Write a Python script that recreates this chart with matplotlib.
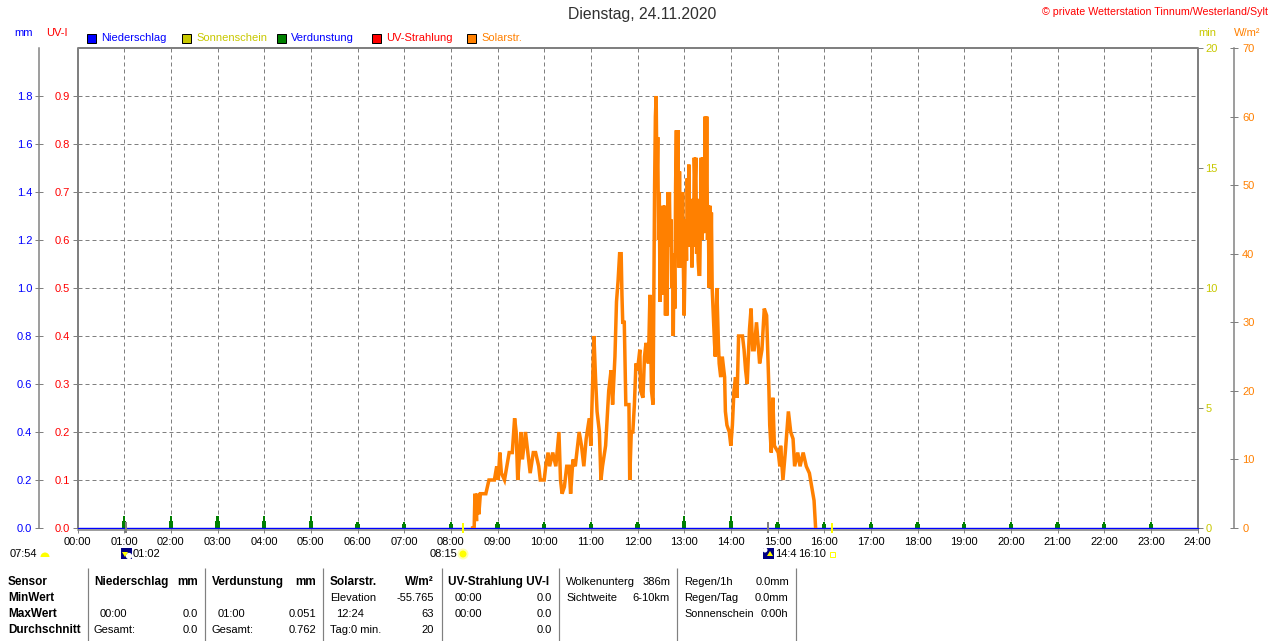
"""
Wetterstation Tagesgrafik 24.11.2020 -- Solarstrahlung, Verdunstung, Niederschlag
"""
import matplotlib
matplotlib.use('Agg')
import matplotlib.pyplot as plt
from matplotlib.patches import Rectangle, Circle, Wedge, Polygon

plt.rcParams['font.family'] = ['Liberation Sans', 'DejaVu Sans']
plt.rcParams['font.size'] = 8
plt.rcParams['lines.scale_dashes'] = False

W, H = 1280, 641
GRAY = '#808080'
ORANGE = '#ff8000'
OLIVE = '#c8c800'
GREEN = '#008000'
BLUE = '#0000ff'
RED = '#ff0000'

# Solarstrahlung: Minuten seit Mitternacht, W/m2
solar_min = [508, 510, 511, 513, 514, 516, 518, 521, 525, 527, 529, 536, 539, 541, 543, 545, 549,
             552, 555, 559, 562, 564, 566, 568, 570, 572, 576, 579, 582, 586, 589, 593, 595, 600,
             602, 605, 607, 611, 615, 619, 621, 623, 626, 629, 632, 634, 637, 640, 645, 648, 651,
             654, 658, 660, 662, 664, 666, 668, 671, 673, 675, 679, 683, 686, 688, 691, 693, 695,
             697, 699, 700, 701, 703, 705, 709, 710, 712, 714, 716, 718, 720, 723, 724, 727, 729,
             731, 734, 736, 738, 740, 741, 742, 743, 744, 745, 746, 747, 748, 749, 750, 751, 752,
             753, 754, 755, 756, 757, 758, 759, 760, 761, 762, 763, 764, 765, 766, 767, 768, 769,
             770, 771, 772, 773, 774, 775, 776, 777, 778, 779, 780, 781, 782, 783, 784, 785, 786,
             787, 788, 789, 790, 791, 792, 793, 794, 795, 796, 797, 798, 799, 800, 801, 802, 803,
             804, 805, 806, 807, 808, 809, 810, 811, 812, 813, 814, 815, 816, 819, 820,
             822, 824, 825, 827, 829, 832, 833, 835, 838, 840, 842, 844, 846, 848, 850, 855, 857,
             859, 861, 864, 866, 868, 870, 873, 877, 880, 883, 886, 889, 890, 892, 894, 896, 901,
             903, 904, 907, 910, 912, 914, 917, 920, 922, 926, 929, 933, 937, 941, 944, 947, 949]
solar_val = [0, 0, 5, 1, 5, 2, 5, 5, 5, 6, 7, 7, 9, 7, 11, 8, 7,
             9, 11, 11, 16, 14, 7, 10, 14, 10, 14, 11, 8, 11, 11, 9, 7, 7,
             9, 11, 9, 11, 9, 14, 7, 5, 6, 9, 9, 5, 10, 9, 14, 12, 9,
             13, 16, 12, 20, 28, 22, 17, 14, 7, 9, 12, 20, 23, 18, 25, 33, 36,
             40, 40, 34, 30, 30, 18, 18, 7, 14, 14, 18, 24, 23, 26, 20, 19, 25,
             27, 24, 34, 20, 18, 33, 50, 60, 63, 50, 57, 42, 49, 33, 42, 35, 36,
             47, 34, 47, 31, 42, 31, 49, 43, 49, 41, 45, 35, 40, 28, 40, 32, 50,
             58, 40, 58, 38, 52, 38, 49, 40, 49, 38, 31, 38, 45, 39, 51, 42, 53,
             42, 41, 48, 38, 46, 41, 54, 50, 54, 40, 48, 39, 37, 37, 45, 54, 42,
             54, 43, 46, 60, 44, 60, 42, 47, 35, 47, 35, 46, 35, 27, 25,
             35, 27, 24, 22, 25, 22, 17, 15, 14, 12, 15, 20, 22, 19, 28, 28, 26,
             23, 21, 29, 32, 26, 26, 30, 24, 26, 32, 31, 20, 15, 11, 19, 12, 11,
             9, 12, 7, 11, 14, 17, 14, 13, 9, 11, 9, 11, 9, 8, 6, 4, 0]

# Verdunstung je Stunde (mm), Niederschlag (mm)
evap_hour = list(range(1, 24))
evap_val = [0.051, 0.051, 0.051, 0.051, 0.051, 0.025, 0.025, 0.025, 0.025, 0.025, 0.025, 0.025,
            0.051, 0.051, 0.025, 0.025, 0.025, 0.025, 0.025, 0.025, 0.025, 0.025, 0.025]
rain_hour = [0, 24]
rain_val = [0.0, 0.0]

hour_labels = ['%02d:00' % h for h in range(25)]
mm_ticks = [0.0, 0.2, 0.4, 0.6, 0.8, 1.0, 1.2, 1.4, 1.6, 1.8]
uv_ticks = [0.0, 0.1, 0.2, 0.3, 0.4, 0.5, 0.6, 0.7, 0.8, 0.9]
min_ticks = [0, 5, 10, 15, 20]
wm_ticks = [0, 10, 20, 30, 40, 50, 60, 70]

PX = 0.72  # 1 px in pt bei dpi 100

fig = plt.figure(figsize=(W / 100, H / 100), dpi=100, facecolor='white')
rect = [77.5 / W, (H - 528) / H, 1120 / W, 480 / H]

ax = fig.add_axes(rect, facecolor='white')
ax.set_xlim(0, 24)
ax.set_ylim(0, 70)

ax_min = ax.twinx()
ax_min.set_ylim(0, 20)
ax_min.set_yticks(min_ticks)
ax_min.patch.set_visible(False)
ax_min.tick_params(axis='y', length=5 * PX, width=PX, color=GRAY, labelcolor=OLIVE, pad=2, labelsize=8)
for s in ['left', 'top', 'bottom', 'right']:
    ax_min.spines[s].set_visible(False)

ax_uv = ax.twinx()
ax_uv.set_ylim(0, 1.0)
ax_uv.yaxis.tick_left()
ax_uv.set_yticks(uv_ticks)
ax_uv.set_yticklabels(['%.1f' % v for v in uv_ticks])
ax_uv.patch.set_visible(False)
ax_uv.tick_params(axis='y', length=5 * PX, width=PX, color=GRAY, labelcolor=RED, pad=2, labelsize=8)
ax_uv.grid(axis='y', color=GRAY, lw=PX, linestyle=(0, (4 * PX, 3 * PX)), zorder=1)
for s in ['left', 'top', 'bottom', 'right']:
    ax_uv.spines[s].set_visible(False)

ax_mm = ax.twinx()
ax_mm.set_ylim(0, 2.0)
ax_mm.yaxis.tick_left()
ax_mm.set_yticks(mm_ticks)
ax_mm.set_yticklabels(['%.1f' % v for v in mm_ticks])
ax_mm.patch.set_visible(False)
ax_mm.spines['left'].set_position(('outward', 38.5 * PX))
ax_mm.spines['left'].set_color(GRAY)
ax_mm.spines['left'].set_linewidth(1.5 * PX)
for s in ['top', 'bottom', 'right']:
    ax_mm.spines[s].set_visible(False)
ax_mm.tick_params(axis='y', direction='inout', length=8 * PX, width=PX, color=GRAY, labelcolor=BLUE,
                  pad=2, labelsize=8)

# Kurven
ax_sol = ax.twinx()
ax_sol.set_ylim(0, 70)
ax_sol.axis('off')
ax_sol.plot([m / 60 for m in solar_min], solar_val, color=ORANGE, lw=3.5 * PX,
            solid_joinstyle='miter', zorder=4)

ax_mm.bar(evap_hour, evap_val, width=0.045, color=GREEN, zorder=3)
ax_mm.bar(evap_hour, [v * 0.6 for v in evap_val], width=0.09, color=GREEN, zorder=3)
ax_mm.plot(rain_hour, rain_val, color=BLUE, lw=1.4 * PX, zorder=6, clip_on=False)

# W/m2 Achse erst nach allen twinx-Aufrufen nach rechts setzen
ax.set_xticks(range(25))
ax.set_xticklabels(hour_labels, fontsize=8)
ax.yaxis.tick_right()
ax.set_yticks(wm_ticks)
ax.spines['right'].set_position(('outward', 36.5 * PX))
ax.spines['right'].set_color(GRAY)
ax.spines['right'].set_linewidth(1.5 * PX)
for s in ['left', 'top', 'bottom']:
    ax.spines[s].set_visible(False)
ax.tick_params(axis='y', right=True, left=False, direction='inout', length=8 * PX, width=PX, color=GRAY,
               labelcolor=ORANGE, pad=3, labelsize=8)
ax.tick_params(axis='x', length=5 * PX, width=PX, color=GRAY, pad=3.2, labelcolor='black')
ax.grid(axis='x', color=GRAY, lw=PX, linestyle=(0, (4 * PX, 3 * PX)), zorder=1)
ax.set_axisbelow(True)

# Pixel-Ebene fuer Rahmen, Texte und Tabelle
px = fig.add_axes([0, 0, 1, 1], facecolor='none')
px.set_xlim(0, W)
px.set_ylim(H, 0)
px.axis('off')


def t(x, y, s, c='black', ha='left', fs=8, fw='normal'):
    px.text(x, y, s, color=c, ha=ha, va='center', fontsize=fs, fontweight=fw)


def tb(x, y, s, ha='left'):
    t(x, y, s, ha=ha, fs=8.5, fw='bold')


# Rahmen
px.plot([77.5, 77.5, 1197.5, 1197.5], [528, 48, 48, 528], color=GRAY, lw=2 * PX, solid_capstyle='butt')
px.plot([77.5, 1197.5], [529.6, 529.6], color=GRAY, lw=1.5 * PX, zorder=1)

# Kopf
t(642, 15, 'Dienstag, 24.11.2020', c='#303030', ha='center', fs=11.3)
t(1268, 12, '\u00a9 private Wetterstation Tinnum/Westerland/Sylt', c=RED, ha='right', fs=7.7)
t(14, 33, 'mm', c=BLUE)
t(46, 33, 'UV-I', c=RED)
t(1198, 33, 'min', c=OLIVE)
t(1234, 33, 'W/m\u00b2', c=ORANGE)

legend_x = [87, 182, 277, 372, 467]
legend_names = ['Niederschlag', 'Sonnenschein', 'Verdunstung', 'UV-Strahlung', 'Solarstr.']
legend_fill = [BLUE, OLIVE, GREEN, RED, ORANGE]
legend_text = [BLUE, OLIVE, BLUE, RED, ORANGE]
for lx, name, fc, tc in zip(legend_x, legend_names, legend_fill, legend_text):
    px.add_patch(Rectangle((lx, 33.5), 9, 9, facecolor=fc, edgecolor='black', lw=PX))
    t(lx + 14, 38, name, c=tc)

# Sonne / Mond Marker
px.vlines([463, 832], 523, 533, color='#ffff00', lw=2 * PX, zorder=7)
px.vlines([125.5, 768], 522, 533, color=GRAY, lw=2 * PX, zorder=5)
t(10, 554, '07:54')
px.add_patch(Wedge((45, 557), 4.5, 180, 360, facecolor='#ffff00'))
px.add_patch(Rectangle((121, 548), 11, 11, facecolor='#000080'))
px.add_patch(Circle((129, 556), 3.2, facecolor='white'))
px.add_patch(Polygon([(122, 552), (128, 552), (125, 557)], facecolor='#ffff00'))
t(133, 554, '01:02')
t(430, 554, '08:15')
px.add_patch(Circle((463, 554), 3.5, facecolor='#ffff00'))
px.add_patch(Circle((463, 554), 5.5, facecolor='#ffff00', alpha=0.3))
px.add_patch(Rectangle((763, 548), 11, 11, facecolor='#000080'))
px.add_patch(Circle((765, 550), 2.5, facecolor='white'))
px.add_patch(Polygon([(767, 556), (773, 556), (770, 551)], facecolor='#ffff00'))
t(775, 554, '14:4')
t(798, 554, '16:10')
px.add_patch(Rectangle((829.5, 551.5), 5, 5, facecolor='white', edgecolor='#ffff00', lw=PX))

# Tabelle
px.vlines([88, 205, 323, 442, 559, 677, 796], 568, 641, color=GRAY, lw=1.2 * PX)
for y, s in zip([582, 598, 614, 630], ['Sensor', 'MinWert', 'MaxWert', 'Durchschnitt']):
    tb(8, y, s)
tb(94, 582, 'Niederschlag')
tb(198, 582, 'mm', ha='right')
tb(212, 582, 'Verdunstung')
tb(316, 582, 'mm', ha='right')
tb(330, 582, 'Solarstr.')
tb(434, 582, 'W/m\u00b2', ha='right')
tb(448, 582, 'UV-Strahlung UV-I')

t(100, 614, '00:00')
t(198, 614, '0.0', ha='right')
t(94, 630, 'Gesamt:')
t(198, 630, '0.0', ha='right')
t(218, 614, '01:00')
t(316, 614, '0.051', ha='right')
t(212, 630, 'Gesamt:')
t(316, 630, '0.762', ha='right')
t(330, 598, 'Elevation')
t(434, 598, '-55.765', ha='right')
t(336, 614, '12:24')
t(434, 614, '63', ha='right')
t(330, 630, 'Tag:0 min.')
t(434, 630, '20', ha='right')
t(455, 598, '00:00')
t(552, 598, '0.0', ha='right')
t(455, 614, '00:00')
t(552, 614, '0.0', ha='right')
t(552, 630, '0.0', ha='right')
t(566, 582, 'Wolkenunterg')
t(671, 582, '386m', ha='right')
t(566, 598, 'Sichtweite')
t(670, 598, '6-10km', ha='right')
t(684, 582, 'Regen/1h')
t(789, 582, '0.0mm', ha='right')
t(684, 598, 'Regen/Tag')
t(788, 598, '0.0mm', ha='right')
t(684, 614, 'Sonnenschein', fs=7.8)
t(788, 614, '0:00h', ha='right')

fig.savefig('out.png', dpi=100)
